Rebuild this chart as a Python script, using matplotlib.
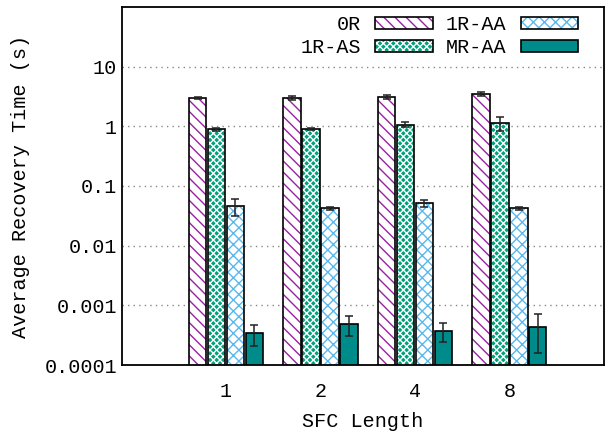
import numpy as np
import matplotlib
matplotlib.use("Agg")
import matplotlib.pyplot as plt
from matplotlib.patches import Patch

plt.rcParams["font.family"] = ["Liberation Mono", "DejaVu Sans Mono"]
plt.rcParams["hatch.linewidth"] = 1.0

# Average recovery time per SFC length (seconds), with std error bars
sfc_lengths = ["1", "2", "4", "8"]
series = ["0R", "1R-AS", "1R-AA", "MR-AA"]

t_0r = [2.95, 3.0, 3.15, 3.5]
t_1r_as = [0.89, 0.91, 1.06, 1.12]
t_1r_aa = [0.046, 0.042, 0.051, 0.042]
t_mr_aa = [0.00034, 0.00049, 0.00037, 0.00044]

err_0r = [0.1, 0.2, 0.25, 0.22]
err_1r_as = [0.06, 0.04, 0.1, 0.3]
err_1r_aa = [0.014, 0.003, 0.007, 0.003]
err_mr_aa = [0.00013, 0.00018, 0.00013, 0.00028]

values = [t_0r, t_1r_as, t_1r_aa, t_mr_aa]
errors = [err_0r, err_1r_as, err_1r_aa, err_mr_aa]

# (face, hatch colour, hatch) for each series
styles = [
    ("white", "#9b1fa5", "\\\\\\"),
    ("#00a07a", "white", "xxxxx"),
    ("white", "#5ab8ee", "xxx"),
    ("#008b8b", "#008b8b", ""),
]

fig = plt.figure(figsize=(6.1, 4.33), dpi=100)
ax = fig.add_axes([0.2, 0.157, 0.79, 0.827])

x = np.arange(len(sfc_lengths))
pitch = 0.2
width = 0.185
handles = []
for i, (name, vals, errs, (face, hcol, hatch)) in enumerate(zip(series, values, errors, styles)):
    pos = x + (i - 1.5) * pitch
    ax.bar(pos, vals, width, color=face, edgecolor=hcol, hatch=hatch, linewidth=0, zorder=2)
    ax.bar(pos, vals, width, fill=False, edgecolor="black", linewidth=1.2, zorder=3)
    ax.errorbar(pos, vals, yerr=errs, fmt="none", ecolor="#222222",
                elinewidth=1.1, capsize=3, capthick=1.1, zorder=4)
    handles.append(Patch(facecolor=face, edgecolor=hcol, hatch=hatch, linewidth=0))

ax.set_yscale("log")
ax.set_ylim(1e-4, 100)
ax.set_xlim(-1.1, 4.0)
ax.set_yticks([1e-4, 1e-3, 1e-2, 1e-1, 1, 10])
ax.set_yticklabels(["0.0001", "0.001", "0.01", "0.1", "1", "10"])
ax.minorticks_off()
ax.set_xticks(x)
ax.set_xticklabels(sfc_lengths)
ax.tick_params(axis="y", length=0, labelsize=14.5, pad=3.5)
ax.tick_params(axis="x", length=0, labelsize=14.5, pad=12)
ax.yaxis.grid(True, linestyle=(0, (1, 3)), color="#888888", linewidth=1.0)
ax.set_axisbelow(True)
for sp in ax.spines.values():
    sp.set_linewidth(1.3)

ax.set_xlabel("SFC Length", fontsize=14.5, labelpad=8)
ax.set_ylabel("Average Recovery Time (s)", fontsize=14.5, labelpad=10)

leg = ax.legend(handles, series, ncol=2, loc="upper right", frameon=False,
                bbox_to_anchor=(0.963, 1.0), borderaxespad=0,
                markerfirst=False, fontsize=14.5, handlelength=2.85,
                handleheight=0.5, columnspacing=0.65, labelspacing=0.2,
                handletextpad=0.7)

# outlined swatches drawn on top of the hatched legend patches
fig.canvas.draw()
inv = fig.transFigure.inverted()
for h in leg.legend_handles:
    bb = h.get_window_extent()
    (x0, y0), (x1, y1) = inv.transform([(bb.x0, bb.y0), (bb.x1, bb.y1)])
    fig.patches.append(plt.Rectangle((x0, y0), x1 - x0, y1 - y0, fill=False,
                                     edgecolor="black", linewidth=1.2,
                                     transform=fig.transFigure, zorder=5))

fig.savefig("out.png", dpi=100)
